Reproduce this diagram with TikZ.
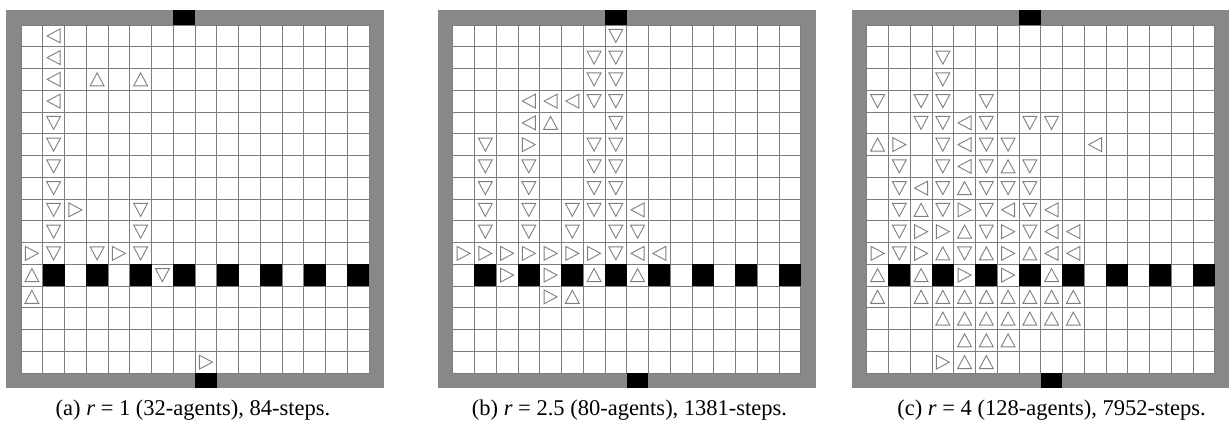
\documentclass[tikz,border=0pt]{standalone}
\usepackage{fontspec}
\setmainfont{Liberation Serif}
\definecolor{framegray}{RGB}{136,136,136}
\definecolor{linegray}{RGB}{125,125,125}
\definecolor{agentgray}{RGB}{128,128,128}
\tikzset{
  gridline/.style={draw=linegray, line width=0.9pt},
  wallcell/.style={fill=black},
  agentline/.style={draw=agentgray, line width=0.9pt, line join=miter},
  agent/.pic={\path[agentline] (-0.3,-0.32) -- (0.3,0) -- (-0.3,0.32) -- cycle;},
  captext/.style={font=\fontsize{22.5}{27}\selectfont, anchor=base, inner sep=0pt}
}
% #1 = left edge of the inner grid, #2 = agents as col/row/angle (0 right, 90 up, 180 left, 270 down)
\newcommand\gridpanel[2]{%
  \begin{scope}[shift={(#1,25)}, x=21.75pt, y=-21.75pt]
    \fill[framegray] (-0.69,-0.69) rectangle (16.69,16.69);
    \fill[white] (0,0) rectangle (16,16);
    \foreach \i in {0,...,16} {
      \draw[gridline] (\i,0) -- (\i,16);
      \draw[gridline] (0,\i) -- (16,\i);
    }
    \foreach \c in {1,3,...,15} {\fill[wallcell] (\c,11) rectangle ++(1,1);}
    \fill[wallcell] (7,-0.69) rectangle (8,0);
    \fill[wallcell] (8,16) rectangle (9,16.69);
    \foreach \c/\r/\a in {#2} {\pic[rotate=\a] at (\c+0.5,\r+0.5) {agent};}
  \end{scope}%
}
\begin{document}
\begin{tikzpicture}[x=1pt,y=-1pt]
\useasboundingbox (0,0) rectangle (1229,428);

% panel (a)
\gridpanel{21}{1/0/180,1/1/180,1/2/180,1/3/180,
 1/4/270,1/5/270,1/6/270,1/7/270,1/8/270,1/9/270,1/10/270,
 3/2/90,5/2/90,
 2/8/0,5/8/270,5/9/270,5/10/270,
 0/10/0,3/10/270,4/10/0,
 0/11/90,6/11/270,0/12/90,8/15/0}

% panel (b)
\gridpanel{452.7}{7/0/270,7/1/270,7/2/270,7/3/270,7/4/270,7/5/270,7/6/270,7/7/270,7/8/270,7/9/270,7/10/270,
 6/1/270,6/2/270,6/3/270,6/5/270,6/6/270,6/7/270,6/8/270,
 3/3/180,4/3/180,5/3/180,3/4/180,4/4/90,
 1/5/270,1/6/270,1/7/270,1/8/270,1/9/270,
 3/5/0,3/6/270,3/7/270,3/8/270,3/9/270,
 5/8/270,5/9/270,
 0/10/0,1/10/0,2/10/0,3/10/0,4/10/0,5/10/0,6/10/0,
 8/8/180,8/9/270,8/10/180,9/10/180,
 2/11/0,4/11/0,6/11/90,8/11/90,
 4/12/0,5/12/90}

% panel (c)
\gridpanel{866.7}{3/1/270,3/2/270,
 0/3/270,2/3/270,3/3/270,5/3/270,
 2/4/270,3/4/270,4/4/180,5/4/270,7/4/270,8/4/270,
 0/5/90,1/5/0,3/5/270,4/5/180,5/5/270,6/5/270,10/5/180,
 1/6/270,3/6/270,4/6/180,5/6/270,6/6/90,7/6/270,
 1/7/270,2/7/180,3/7/270,4/7/90,5/7/270,6/7/270,7/7/270,
 1/8/270,2/8/90,3/8/270,4/8/0,5/8/270,6/8/180,7/8/270,8/8/180,
 1/9/270,2/9/0,3/9/0,4/9/90,5/9/270,6/9/0,7/9/270,8/9/180,9/9/180,
 0/10/0,1/10/270,2/10/0,3/10/90,4/10/270,5/10/90,6/10/0,7/10/90,8/10/180,9/10/180,
 0/11/90,2/11/90,4/11/0,6/11/0,8/11/90,
 0/12/90,2/12/90,3/12/90,4/12/90,5/12/90,6/12/90,7/12/90,8/12/90,9/12/90,
 3/13/90,4/13/90,5/13/90,6/13/90,7/13/90,8/13/90,9/13/90,
 4/14/90,5/14/90,6/14/90,
 3/15/0,4/15/90,5/15/90}

\node[captext] (capa) at (193,415) {(a) \textit{r} = 1 (32-agents), 84-steps.};
\node[captext] (capb) at (629.5,415) {(b) \textit{r} = 2.5 (80-agents), 1381-steps.};
\node[captext] (capc) at (1051.5,415) {(c) \textit{r} = 4 (128-agents), 7952-steps.};
\end{tikzpicture}
\end{document}
